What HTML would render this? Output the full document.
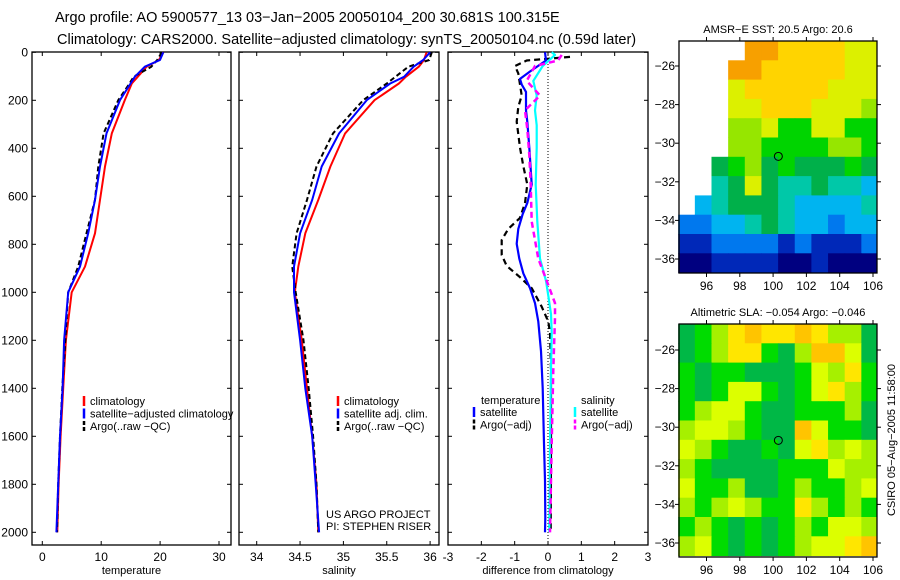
<!DOCTYPE html>
<html><head><meta charset="utf-8">
<style>
html,body{margin:0;padding:0;background:#fff;}
svg{display:block;font-family:"Liberation Sans",sans-serif;}
</style></head>
<body>
<svg id="fig" width="900" height="580" viewBox="0 0 900 580" xmlns="http://www.w3.org/2000/svg">
<text x="55" y="22" font-size="14.5" fill="#000">Argo profile: AO 5900577_13 03−Jan−2005 20050104_200 30.681S 100.315E</text>
<text x="57" y="44" font-size="14.5" fill="#000">Climatology: CARS2000. Satellite−adjusted climatology: synTS_20050104.nc (0.59d later)</text>
<g id="plots"></g>
</svg>
<script>
// ---------- data ----------
const depthA = [0,32,60,102,130,199,338,476,615,754,893,1000,1200,1400,1600,1800,2000];
const tempClim = [20.55,19.8,17.7,16.2,15.2,14.0,11.8,10.65,9.8,8.95,7.25,4.99,4.0,3.55,3.1,2.77,2.55];
const tempSat  = [20.55,19.98,17.4,15.7,15.0,13.2,10.9,9.8,8.95,7.8,6.4,4.4,3.7,3.45,3.0,2.7,2.4];
const tempArgo = [20.3,19.5,18.5,15.5,14.8,12.9,10.4,9.5,8.95,7.5,6.1,4.4,3.9,3.4,3.0,2.7,2.5];
const salClim = [35.96,35.93,35.87,35.72,35.64,35.36,35.02,34.85,34.71,34.56,34.48,34.44,34.52,34.58,34.64,34.69,34.71];
const salSat  = [36.0,35.92,35.81,35.7,35.54,35.27,34.95,34.75,34.64,34.5,34.43,34.43,34.5,34.56,34.64,34.68,34.72];
const salArgo = [36.02,35.99,35.75,35.6,35.5,35.23,34.88,34.69,34.58,34.46,34.41,34.45,34.54,34.6,34.65,34.69,34.71];

const dTs = [0,34,80,111,134,165,242,289,397,551,628,674,736,798,860,921,983,1045,1122,1245,1400,1631,1785,1940,2000];
const diffTs = [-0.09,-0.06,-0.54,-0.84,-0.79,-0.66,-0.66,-0.62,-0.56,-0.49,-0.62,-0.76,-0.89,-0.94,-0.86,-0.74,-0.54,-0.39,-0.29,-0.21,-0.16,-0.12,-0.09,-0.08,-0.09];
const dTa = [19,34,57,88,180,227,289,397,474,551,628,690,736,782,844,890,937,983,1060,1122,1168,1323,1631,2000];
const diffTa = [0.66,-0.64,-0.99,-0.89,-0.79,-0.89,-0.94,-0.84,-0.74,-0.62,-0.69,-0.84,-1.19,-1.39,-1.39,-1.24,-0.84,-0.49,-0.19,0.01,0.06,0.09,0.09,0.08];
const dSs = [0,11,57,119,180,242,304,397,551,705,860,952,1014,1091,1168,1323,1631,2000];
const diffSs = [0.11,0.21,-0.16,-0.44,-0.34,-0.39,-0.34,-0.34,-0.37,-0.32,-0.24,-0.06,0.01,0.09,0.11,0.09,0.06,0.04];
const dSa = [11,34,57,119,180,242,319,427,551,705,860,952,1045,1106,1323,1631,2000];
const diffSa = [0.41,0.3,-0.39,-0.64,-0.24,-0.69,-0.62,-0.56,-0.52,-0.49,-0.29,-0.04,0.21,0.21,0.16,0.11,0.06];

const depthTicks = [0,200,400,600,800,1000,1200,1400,1600,1800,2000];
const tempTicks = [0,10,20,30];
const salTicks = [34,34.5,35,35.5,36];
const salTickLabels = ["34","34.5","35","35.5","36"];
const diffTicks = [-3,-2,-1,0,1,2,3];
const lonTicks = [96,98,100,102,104,106];
const latTicks = [-26,-28,-30,-32,-34,-36];

const sstRows = [
"....ooyyyyll",
"...ooyyyyyll",
"...lyyyyylll",
"...llyyylllg",
"...gglGGllGG",
"...ggGGGGggG",
"..dGgdGdddGd",
"..tdldttdttc",
".ctdddtcccct",
"bbcctdtccbcc",
"BBbbbbBbBBBb",
"nnBBBBnnBnnn"];
const slaRows = [
"dGlYoYYoYlld",
"dGlYYGdlooyd",
"GdGGdddGylYG",
"GdGyyGdGyYlG",
"GlyyGddGGGld",
"lyylGddoyGGd",
"ylGddGdyYlyl",
"lGddddGGGyll",
"yGGlddGlGGly",
"lGlylGGYlGlG",
"GlGdGdGlGyyl",
"lyGdGdGlyyYo"];
const sstColors = {o:"#f7a000",y:"#ffd400",l:"#dcf000",g:"#96e600",G:"#00d400",d:"#00b04a",t:"#00c8a8",c:"#00b4f0",b:"#0078ee",B:"#0028b8",n:"#000080"};
const slaColors = {G:"#00dc00",d:"#00b846",l:"#a6f000",y:"#dcff00",Y:"#ffe600",o:"#ffc400"};
const argoLon = 100.315, argoLat = -30.681;

// ---------- helpers ----------
const NS="http://www.w3.org/2000/svg";
const root=document.getElementById('plots');
function mk(tag,attrs,parent){const e=document.createElementNS(NS,tag);for(const k in attrs)e.setAttribute(k,attrs[k]);(parent||root).appendChild(e);return e;}
const yTop=52.3, yScale=0.24;
function yD(d){return yTop+d*yScale;}
const boxTop=52, boxBot=545;

function panel(x0,x1,xs,ticks,labels,xlabel,showDepth,name){
  const g=mk('g',{});
  
  
  const r=mk('rect',{x:x0,y:boxTop,width:x1-x0,height:boxBot-boxTop,fill:'none',stroke:'#000','stroke-width':1.3},g);
  
  
  ticks.forEach((t,i)=>{
    const x=xs(t);
    mk('line',{x1:x,x2:x,y1:boxBot,y2:boxBot-4,stroke:'#000'},g);
    mk('line',{x1:x,x2:x,y1:boxTop,y2:boxTop+4,stroke:'#000'},g);
    const tx=mk('text',{x:x,y:561,'font-size':12,'text-anchor':'middle'},g);
    tx.textContent=labels[i];
    
    
  });
  depthTicks.forEach(d=>{
    const y=yD(d);
    mk('line',{x1:x0,x2:x0+4,y1:y,y2:y,stroke:'#000'},g);
    mk('line',{x1:x1,x2:x1-4,y1:y,y2:y,stroke:'#000'},g);
    if(showDepth){
      const tx=mk('text',{x:x0-4,y:y+4,'font-size':12,'text-anchor':'end'},g);
      tx.textContent=String(d);
      
      
    }
  });
  const xl=mk('text',{x:(x0+x1)/2,y:574,'font-size':11,'text-anchor':'middle'},g);
  xl.textContent=xlabel;
  
  
  return g;
}
function line(g,xs,vals,depths,color,w,dash,name){
  const pts=vals.map((v,i)=>xs(v).toFixed(1)+','+yD(depths[i]).toFixed(1)).join(' ');
  const a={points:pts,fill:'none',stroke:color,'stroke-width':w,'stroke-linejoin':'round'};
  if(dash)a['stroke-dasharray']=dash;
  const p=mk('polyline',a,g);
  
  
}
function legend(g,x,y,items){
  items.forEach((it,i)=>{
    const yy=y+i*12.5;
    const b=mk('line',{x1:x,x2:x,y1:yy-9,y2:yy+1,stroke:it[1],'stroke-width':2.5,'stroke-dasharray':it[2]?'4,2':''},g);
    
    
    const t=mk('text',{x:x+6,y:yy,'font-size':11},g);
    t.textContent=it[0];
    
    
  });
}

// ---------- panel 1: temperature ----------
const xT=v=>42.3+v*5.89;
const g1=panel(32,231,xT,tempTicks,tempTicks.map(String),'temperature',true,'temperature-panel');
line(g1,xT,tempClim,depthA,'#ff0000',2,null,'temp-climatology-line');
line(g1,xT,tempArgo,depthA,'#000',2,'5,3','temp-argo-line');
line(g1,xT,tempSat,depthA,'#0000ff',2,null,'temp-satellite-line');
legend(g1,84,405,[['climatology','#ff0000'],['satellite−adjusted climatology','#0000ff'],['Argo(..raw −QC)','#000',1]]);

// ---------- panel 2: salinity ----------
const xS=v=>256.7+(v-34)*86.7;
const g2=panel(239,439,xS,salTicks,salTickLabels,'salinity',false,'salinity-panel');
line(g2,xS,salClim,depthA,'#ff0000',2,null,'sal-climatology-line');
line(g2,xS,salArgo,depthA,'#000',2,'5,3','sal-argo-line');
line(g2,xS,salSat,depthA,'#0000ff',2,null,'sal-satellite-line');
legend(g2,338,405,[['climatology','#ff0000'],['satellite adj. clim.','#0000ff'],['Argo(..raw −QC)','#000',1]]);
[['US ARGO PROJECT',518],['PI: STEPHEN RISER',530]].forEach(a=>{
  const t=mk('text',{x:326,y:a[1],'font-size':11},g2);
  t.textContent=a[0];
  
  
});

// ---------- panel 3: differences ----------
const xD=v=>548+v*33.33;
const g3=panel(448,648,xD,diffTicks,diffTicks.map(String),'difference from climatology',false,'difference-panel');
const zl=mk('line',{x1:xD(0),x2:xD(0),y1:boxTop,y2:boxBot,stroke:'#000','stroke-dasharray':'1,2'},g3);


line(g3,xD,diffTa,dTa,'#000',2.2,'6,4','temp-diff-argo-line');
line(g3,xD,diffTs,dTs,'#0000ff',2.2,null,'temp-diff-satellite-line');
line(g3,xD,diffSs,dSs,'#00ffff',2.2,null,'sal-diff-satellite-line');
line(g3,xD,diffSa,dSa,'#ff00ff',2.5,'6,4','sal-diff-argo-line');
const lt=mk('text',{x:481,y:404,'font-size':11},g3);lt.textContent='temperature';


const ls=mk('text',{x:581,y:404,'font-size':11},g3);ls.textContent='salinity';


legend(g3,474,416,[['satellite','#0000ff'],['Argo(−adj)','#000',1]]);
legend(g3,575,416,[['satellite','#00ffff'],['Argo(−adj)','#ff00ff',1]]);

// ---------- maps ----------
function map(top,bottom,lat26y,title,rows,colors,name){
  const x0=679,x1=877;
  const lonX=l=>706.5+(l-96)*16.65;
  const latY=l=>lat26y+(-26-l)*19.3;
  const g=mk('g',{});
  
  
  const latN=-26-(top-lat26y)/19.3;
  rows.forEach((row,r)=>{
    for(let c=0;c<row.length;c++){
      const ch=row[c]; if(ch==='.')continue;
      const lon=94.3+c, lat=latN-r;
      const ya=Math.max(top,latY(lat)), yb=Math.min(bottom,latY(lat-1));
      const xa=lonX(lon), xb=Math.min(x1,lonX(lon+1));
      const cell=mk('rect',{x:xa,y:ya,width:xb-xa+0.5,height:yb-ya+0.5,fill:colors[ch]},g);
      
      
    }
  });
  const f=mk('rect',{x:x0,y:top,width:x1-x0,height:bottom-top,fill:'none',stroke:'#000','stroke-width':1.3},g);
  
  
  lonTicks.forEach(l=>{
    const x=lonX(l);
    mk('line',{x1:x,x2:x,y1:bottom,y2:bottom+4,stroke:'#000'},g);
    mk('line',{x1:x,x2:x,y1:top,y2:top-4,stroke:'#000'},g);
    const t=mk('text',{x:x,y:bottom+17,'font-size':12,'text-anchor':'middle'},g);t.textContent=String(l);
    
    
  });
  latTicks.forEach(l=>{
    const y=latY(l);
    mk('line',{x1:x0,x2:x0-4,y1:y,y2:y,stroke:'#000'},g);
    mk('line',{x1:x1,x2:x1+4,y1:y,y2:y,stroke:'#000'},g);
    const t=mk('text',{x:x0-4,y:y+4,'font-size':12,'text-anchor':'end'},g);t.textContent=String(l).replace('-','−');
    
    
  });
  const c=mk('circle',{cx:lonX(argoLon),cy:latY(argoLat),r:4,fill:'none',stroke:'#000','stroke-width':1},g);
  
  
  const t=mk('text',{x:(x0+x1)/2,y:top-8,'font-size':11,'text-anchor':'middle'},g);t.textContent=title;
  
  
}
map(41,273,66,'AMSR−E SST: 20.5 Argo: 20.6',sstRows,sstColors,'sst-map');
map(324,557,350,'Altimetric SLA: −0.054 Argo: −0.046',slaRows,slaColors,'sla-map');
const stamp=mk('text',{x:0,y:0,'font-size':11,'text-anchor':'middle',transform:'translate(895,440) rotate(-90)'});
stamp.textContent='CSIRO 05−Aug−2005 11:58:00';


</script>
</body></html>
